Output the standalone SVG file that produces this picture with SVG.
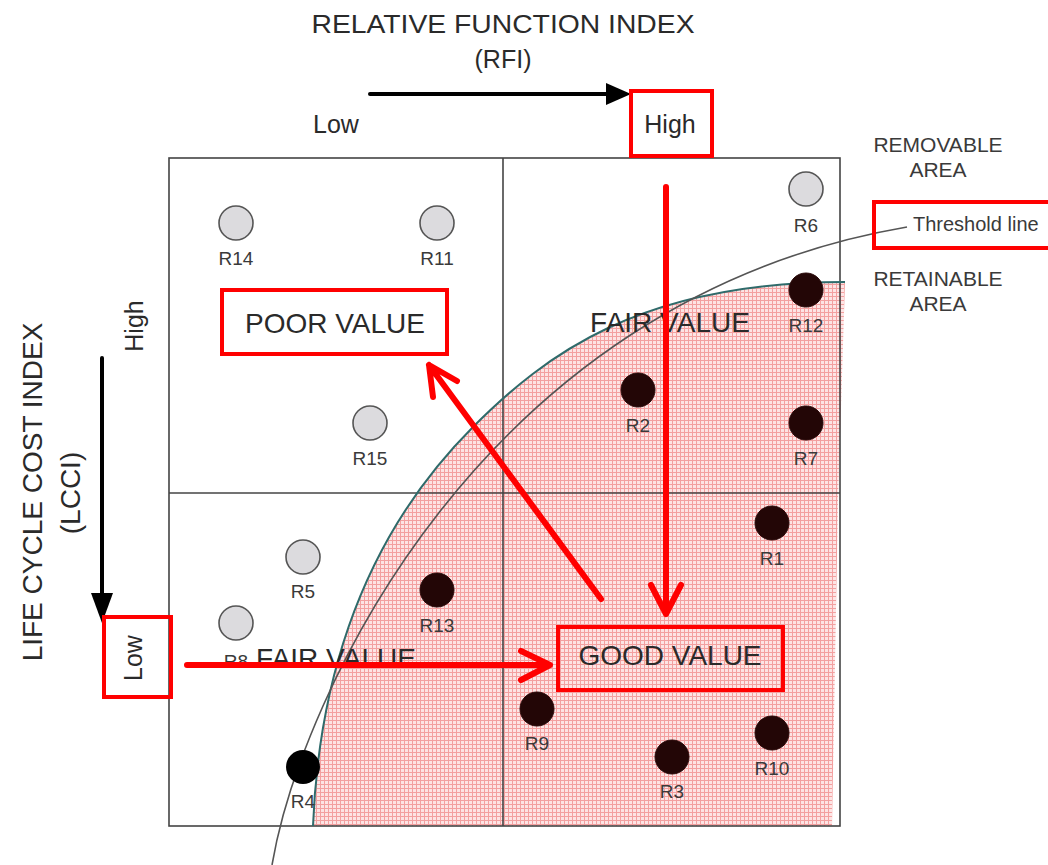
<svg xmlns="http://www.w3.org/2000/svg" width="1048" height="865" viewBox="0 0 1048 865">
<style>
text{font-family:"Liberation Sans",Arial,sans-serif;fill:#2a2a2a}
.lbl{font-size:19px;text-anchor:middle;fill:#3a3a3a}
.big{font-size:28px;text-anchor:middle}
.ax{font-size:25px;text-anchor:middle}
.area{font-size:21px;text-anchor:middle;fill:#3a3a3a}
.frame{fill:none;stroke:#444;stroke-width:1.6}
.rbox{fill:none;stroke:#ff0000;stroke-width:4}
.rarrow{fill:none;stroke:#ff0000;stroke-width:6;stroke-linecap:round;stroke-linejoin:round}
.light{fill:#dcdbde;stroke:#555;stroke-width:1.6}
.dark{fill:#230606;stroke:#2a0a0a;stroke-width:1}
</style>
<defs>
<pattern id="hatch" width="4" height="4" patternUnits="userSpaceOnUse">
<rect width="4" height="4" fill="#fde4e4"/>
<path d="M0,0.5H4M0.5,0V4" stroke="#f3a0a0" stroke-width="1"/>
</pattern>
</defs>
<rect width="1048" height="865" fill="#fff"/>
<g id="retainable-area">
<path d="M313,826 C320,650 380,520 473,427 C545,355 640,282 845,282 L838,500 L832,826 Z" fill="url(#hatch)"/>
</g>
<g id="matrix">
<rect class="frame" x="169" y="158" width="671" height="668"/>
<line class="frame" x1="503" y1="158" x2="503" y2="826"/>
<line class="frame" x1="169" y1="493" x2="840" y2="493"/>
</g>
<g id="boundary">
<path d="M313,826 C320,650 380,520 473,427 C545,355 640,282 845,282" fill="none" stroke="#2f6b6b" stroke-width="2"/>
</g>
<g id="threshold-curve">
<path d="M272,865 C300,700 480,300 907,227" fill="none" stroke="#555" stroke-width="1.6"/>
</g>
<g id="axis-rfi">
<text class="ax" x="503" y="33" textLength="383" lengthAdjust="spacingAndGlyphs">RELATIVE FUNCTION INDEX</text>
<text class="ax" x="503" y="68">(RFI)</text>
<line x1="370" y1="94" x2="610" y2="94" stroke="#000" stroke-width="4" stroke-linecap="round"/>
<polygon points="606,83 631,94 606,105" fill="#000"/>
<text class="ax" x="336" y="133">Low</text>
</g>
<g id="rfi-high">
<rect class="rbox" x="631" y="91" width="81" height="65"/>
<text class="ax" x="670" y="133">High</text>
</g>
<g id="axis-lcci">
<text class="big" transform="translate(42,492) rotate(-90)">LIFE CYCLE COST INDEX</text>
<text class="big" transform="translate(80,493) rotate(-90)">(LCCI)</text>
<line x1="102" y1="358" x2="102" y2="596" stroke="#000" stroke-width="4" stroke-linecap="round"/>
<polygon points="91,593 102,623 113,593" fill="#000"/>
<text class="ax" transform="translate(143,326) rotate(-90)">High</text>
</g>
<g id="lcci-low">
<rect class="rbox" x="104" y="617" width="67" height="80"/>
<text class="ax" transform="translate(142,658) rotate(-90)">Low</text>
</g>
<g id="legend">
<text class="area" x="938" y="152">REMOVABLE</text>
<text class="area" x="938" y="177">AREA</text>
<text class="area" x="938" y="286">RETAINABLE</text>
<text class="area" x="938" y="311">AREA</text>
</g>
<g id="threshold-label">
<rect class="rbox" x="874" y="202" width="180" height="46"/>
<text x="913" y="231" style="font-size:20px;fill:#3a3a3a">Threshold line</text>
</g>
<g id="R14"><circle class="light" cx="236" cy="223" r="17"/><text class="lbl" x="236" y="265">R14</text></g>
<g id="R11"><circle class="light" cx="437" cy="223" r="17"/><text class="lbl" x="437" y="265">R11</text></g>
<g id="R15"><circle class="light" cx="370" cy="423" r="17"/><text class="lbl" x="370" y="465">R15</text></g>
<g id="R6"><circle class="light" cx="806" cy="189" r="17"/><text class="lbl" x="806" y="232">R6</text></g>
<g id="R12"><circle class="dark" cx="806" cy="290" r="17"/><text class="lbl" x="806" y="332">R12</text></g>
<g id="R2"><circle class="dark" cx="638" cy="390" r="17"/><text class="lbl" x="638" y="432">R2</text></g>
<g id="R7"><circle class="dark" cx="806" cy="423" r="17"/><text class="lbl" x="806" y="465">R7</text></g>
<g id="R1"><circle class="dark" cx="772" cy="523" r="17"/><text class="lbl" x="772" y="565">R1</text></g>
<g id="R5"><circle class="light" cx="303" cy="557" r="17"/><text class="lbl" x="303" y="598">R5</text></g>
<g id="R13"><circle class="dark" cx="437" cy="590" r="17"/><text class="lbl" x="437" y="632">R13</text></g>
<g id="R8"><circle class="light" cx="236" cy="623" r="17"/><text class="lbl" x="236" y="668">R8</text></g>
<g id="R9"><circle class="dark" cx="537" cy="709" r="17"/><text class="lbl" x="537" y="750">R9</text></g>
<g id="R10"><circle class="dark" cx="772" cy="733" r="17"/><text class="lbl" x="772" y="775">R10</text></g>
<g id="R3"><circle class="dark" cx="672" cy="757" r="17"/><text class="lbl" x="672" y="798">R3</text></g>
<g id="R4"><circle cx="303" cy="767" r="17" fill="#000"/><text class="lbl" x="303" y="808">R4</text></g>
<g id="fair-value-top"><text class="big" x="670" y="332">FAIR VALUE</text></g>
<g id="fair-value-bottom"><text class="big" x="336" y="668">FAIR VALUE</text></g>
<g id="poor-value">
<rect class="rbox" x="222" y="290" width="225" height="64"/>
<text class="big" x="335" y="333">POOR VALUE</text>
</g>
<g id="good-value">
<rect class="rbox" x="558" y="627" width="225" height="63"/>
<text class="big" x="670" y="665">GOOD VALUE</text>
</g>
<g id="connectors">
<path class="rarrow" d="M666,187 V614 M651,585 L666,614 L681,585"/>
<path class="rarrow" d="M187,665 H550 M521,651 L550,665 L521,680"/>
<path class="rarrow" d="M601,599 L429,365 M457,381 L429,365 L433,397"/>
</g>
</svg>
